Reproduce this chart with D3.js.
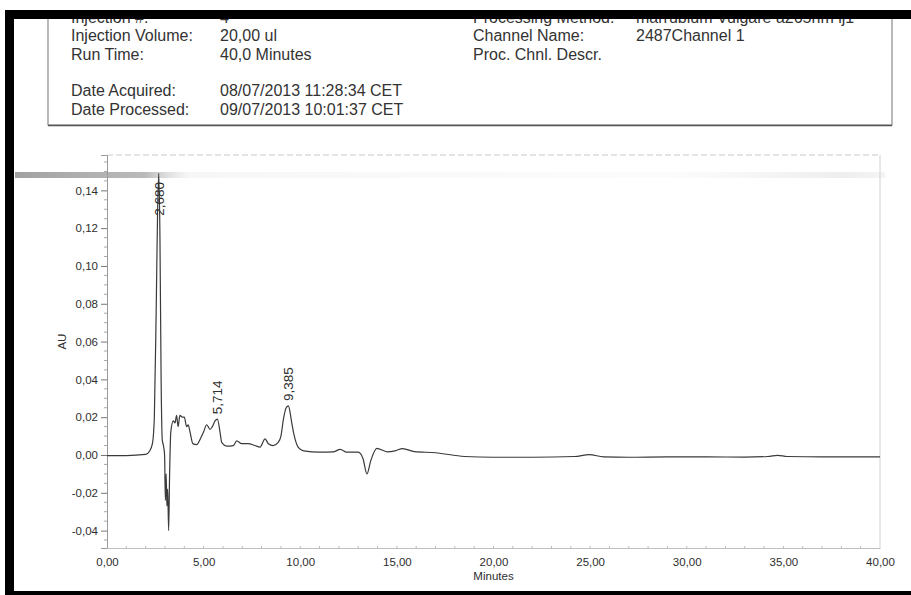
<!DOCTYPE html>
<html>
<head>
<meta charset="utf-8">
<script src="https://cdn.jsdelivr.net/npm/d3@7"></script>
<style>
  html, body { margin: 0; padding: 0; background: #fff; }
  svg { display: block; font-family: "Liberation Sans", Arial, sans-serif; }
</style>
</head>
<body>
<svg id="chart" width="911" height="595"></svg>
<script>
// ---------- data ----------
const times = [0, 1, 2.0, 2.2, 2.35, 2.45, 2.55, 2.62, 2.68, 2.74, 2.8, 2.86, 2.92, 2.98, 3.02, 3.06, 3.1, 3.14, 3.19, 3.24, 3.3,
  3.43, 3.52, 3.6, 3.68, 3.77, 3.9, 4.0, 4.12, 4.2, 4.3, 4.44, 4.64, 4.85, 4.99, 5.16, 5.33, 5.45, 5.59, 5.714, 5.85, 5.94,
  6.2, 6.54, 6.71, 6.97, 7.3, 7.65, 7.92, 8.18, 8.35, 8.6, 8.87, 9.0, 9.13, 9.27, 9.385, 9.5, 9.56, 9.73, 9.9, 10.17,
  11.0, 11.7, 12.07, 12.4, 13.0, 13.25, 13.45, 13.65, 13.96, 14.5, 14.9, 15.3, 15.9, 17.0, 18.5, 20, 22, 24.2, 24.95,
  25.7, 27, 29, 31, 33, 34.2, 34.7, 35.2, 37, 40];
const auValues = [-0.0003, -0.0003, 0.0003, 0.002, 0.006, 0.02, 0.08, 0.13, 0.149, 0.115, 0.04, 0.008, 0.005, 0.0, -0.024, -0.01, -0.027, -0.018, -0.040, -0.01, 0.012,
  0.018, 0.017, 0.021, 0.015, 0.021, 0.020, 0.020, 0.015, 0.016, 0.012, 0.006, 0.0055, 0.009, 0.012, 0.016, 0.0135, 0.015, 0.018, 0.019, 0.012, 0.0065,
  0.0047, 0.005, 0.0075, 0.006, 0.006, 0.005, 0.0042, 0.0085, 0.006, 0.005, 0.0068, 0.010, 0.019, 0.025, 0.026, 0.021, 0.017, 0.0085, 0.004, 0.0022,
  0.0015, 0.0016, 0.003, 0.0015, 0.0015, -0.002, -0.010, -0.003, 0.0035, 0.0017, 0.0022, 0.0034, 0.0018, 0.0012, -0.0008, -0.0012, -0.0012, -0.0008, 0.0002,
  -0.001, -0.0012, -0.001, -0.001, -0.0011, -0.0008, -0.0002, -0.0008, -0.001, -0.001];

const peakTimes = [2.680, 5.714, 9.385];
const peakLabels = ["2,680", "5,714", "9,385"];
const peakLabelAnchors = [0.125, 0.020, 0.027];

const xTicks = [0, 5, 10, 15, 20, 25, 30, 35, 40];
const yTicks = [-0.04, -0.02, 0.00, 0.02, 0.04, 0.06, 0.08, 0.10, 0.12, 0.14];

const headerLeftLabels = ["Injection #:", "Injection Volume:", "Run Time:", "", "Date Acquired:", "Date Processed:"];
const headerLeftValues = ["4", "20,00 ul", "40,0 Minutes", "", "08/07/2013 11:28:34 CET", "09/07/2013 10:01:37 CET"];
const headerRightLabels = ["Processing Method:", "Channel Name:", "Proc. Chnl. Descr."];
const headerRightValues = ["marrubium Vulgare a265nm ij1", "2487Channel 1", ""];

// ---------- layout ----------
const svg = d3.select("#chart");
const W = 911, H = 595;
const mL = 107, mR = 880, mT = 155, mB = 548;

const x = d3.scaleLinear().domain([0, 40]).range([mL, mR]);
const y = d3.scaleLinear().domain([-0.0492, 0.1587]).range([mB, mT]);

const fmt = v => d3.format(".2f")(v).replace(".", ",").replace("\u2212", "-");
const textCol = "#2e2e2e";

// ---------- header ----------
const hdr = svg.append("g").attr("font-size", 16).attr("fill", "#333");
headerLeftLabels.forEach((t, i) => {
  const by = 23 + i * 18.3;
  hdr.append("text").attr("x", 71).attr("y", by).text(t);
  hdr.append("text").attr("x", 220).attr("y", by).text(headerLeftValues[i]);
});
headerRightLabels.forEach((t, i) => {
  const by = 23 + i * 18.3;
  hdr.append("text").attr("x", 473).attr("y", by).text(t);
  hdr.append("text").attr("x", 636).attr("y", by).text(headerRightValues[i]);
});
// header box
svg.append("path").attr("d", "M48,19 V125 H892 V19").attr("fill", "none")
  .attr("stroke", "#8a8a8a").attr("stroke-width", 1.2);
svg.append("line").attr("x1", 48).attr("x2", 892).attr("y1", 125.5).attr("y2", 125.5)
  .attr("stroke", "#555").attr("stroke-width", 1.6);

// scan artefact band
const grad = svg.append("defs").append("linearGradient").attr("id", "band");
grad.append("stop").attr("offset", "0%").attr("stop-color", "#555").attr("stop-opacity", 0.55);
grad.append("stop").attr("offset", "15%").attr("stop-color", "#666").attr("stop-opacity", 0.45);
grad.append("stop").attr("offset", "20%").attr("stop-color", "#aaa").attr("stop-opacity", 0.1);
grad.append("stop").attr("offset", "75%").attr("stop-color", "#ccc").attr("stop-opacity", 0.06);
grad.append("stop").attr("offset", "95%").attr("stop-color", "#bbb").attr("stop-opacity", 0.25);
grad.append("stop").attr("offset", "100%").attr("stop-color", "#bbb").attr("stop-opacity", 0.15);
svg.append("rect").attr("x", 15).attr("y", 172).attr("width", 870).attr("height", 6).attr("fill", "url(#band)");

// ---------- plot frame ----------
const axisCol = "#9a9a9a";
svg.append("line").attr("x1", mL).attr("x2", mR).attr("y1", mT).attr("y2", mT)
  .attr("stroke", "#c8c8c8").attr("stroke-dasharray", "6,3");
svg.append("line").attr("x1", mR).attr("x2", mR).attr("y1", mT).attr("y2", mB)
  .attr("stroke", "#d0d0d0");

// y axis
const yAxis = d3.axisLeft(y).tickValues(yTicks).tickFormat(fmt).tickSize(6).tickPadding(3);
const gy = svg.append("g").attr("transform", `translate(${mL},0)`).call(yAxis);
gy.select(".domain").attr("stroke", axisCol);
gy.selectAll(".tick line").attr("stroke", "#777");
gy.selectAll(".tick text").attr("font-size", 11.5).attr("fill", textCol).attr("font-family", "Liberation Sans, Arial, sans-serif");
const yMinor = d3.range(-0.045, 0.1551, 0.005).filter(v => Math.abs(Math.round(v * 50) - v * 50) > 1e-6);
svg.append("g").selectAll("line").data(yMinor).join("line")
  .attr("x1", mL - 3).attr("x2", mL).attr("y1", d => y(d)).attr("y2", d => y(d))
  .attr("stroke", "#aaa");

// x axis
const xAxis = d3.axisBottom(x).tickValues(xTicks).tickFormat(fmt).tickSize(0).tickPadding(10);
const gx = svg.append("g").attr("transform", `translate(0,${mB})`).call(xAxis);
gx.select(".domain").attr("stroke", "#c0c0c0");
gx.selectAll(".tick text").attr("font-size", 11.5).attr("fill", textCol).attr("font-family", "Liberation Sans, Arial, sans-serif");
svg.append("g").selectAll("line").data(d3.range(1, 40)).join("line")
  .attr("x1", d => x(d)).attr("x2", d => x(d)).attr("y1", mB - 2).attr("y2", mB + 1)
  .attr("stroke", "#bbb");

svg.append("text").attr("x", x(20)).attr("y", 580).attr("text-anchor", "middle")
  .attr("font-size", 11.5).attr("fill", textCol).text("Minutes");
svg.append("text").attr("transform", `translate(66,${y(0.06)}) rotate(-90)`).attr("text-anchor", "middle")
  .attr("font-size", 11.5).attr("fill", textCol).text("AU");

// ---------- trace ----------
const pts = times.map((t, i) => [t, auValues[i]]);
const line = d3.line().x(d => x(d[0])).y(d => y(d[1])).curve(d3.curveMonotoneX);
svg.append("clipPath").attr("id", "clip").append("rect")
  .attr("x", mL).attr("y", mT).attr("width", mR - mL).attr("height", mB - mT);
svg.append("path").datum(pts).attr("d", line).attr("clip-path", "url(#clip)")
  .attr("fill", "none").attr("stroke", "#3a3a3a").attr("stroke-width", 1.2).attr("stroke-linejoin", "round");

// peak labels
svg.append("g").selectAll("text").data(peakTimes).join("text")
  .attr("transform", (d, i) => `translate(${x(d)},${y(peakLabelAnchors[i]) - 3}) rotate(-90)`)
  .attr("dy", "0.35em").attr("text-anchor", "start")
  .attr("font-size", 13.5).attr("fill", textCol)
  .text((d, i) => peakLabels[i]);

// ---------- scan black frame ----------
svg.append("rect").attr("x", 5).attr("y", 10).attr("width", W - 5).attr("height", 9).attr("fill", "#000");
svg.append("rect").attr("x", 5).attr("y", 10).attr("width", 9).attr("height", H - 10).attr("fill", "#000");
svg.append("rect").attr("x", 5).attr("y", 591).attr("width", W - 5).attr("height", 4).attr("fill", "#000");
</script>
</body>
</html>
